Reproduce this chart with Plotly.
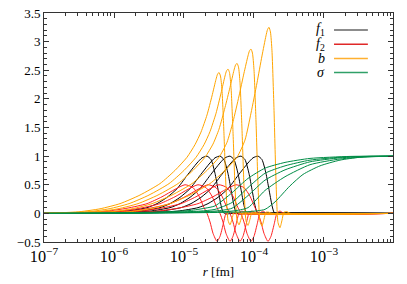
import numpy as np
import plotly.graph_objects as go

# ---------------- data (x given as log10 of r in fm) ----------------
f1_logr = [
    [-7.0, -6.957, -6.385, -6.100, -5.814, -5.528, -5.385, -5.242, -5.100, -4.957, -4.814, -4.742, -4.671, -4.614, -4.557, -4.514, -4.471, -4.442, -4.400, -4.314, -2.0],
    [-7.0, -6.772, -6.200, -5.915, -5.629, -5.343, -5.200, -5.057, -4.915, -4.772, -4.629, -4.557, -4.486, -4.429, -4.372, -4.329, -4.286, -4.257, -4.215, -4.129, -2.0],
    [-7.0, -6.629, -6.057, -5.772, -5.486, -5.200, -5.057, -4.914, -4.772, -4.629, -4.486, -4.414, -4.343, -4.286, -4.229, -4.186, -4.143, -4.114, -4.072, -3.986, -2.0],
    [-7.0, -6.472, -5.900, -5.615, -5.329, -5.043, -4.900, -4.757, -4.615, -4.472, -4.329, -4.257, -4.186, -4.129, -4.072, -4.029, -3.986, -3.957, -3.915, -3.829, -2.0],
    [-7.0, -6.229, -5.657, -5.372, -5.086, -4.800, -4.657, -4.514, -4.372, -4.229, -4.086, -4.014, -3.943, -3.886, -3.829, -3.786, -3.743, -3.714, -3.672, -3.586, -2.0],
]
f1_vals = [
    [0, 0, 0.01, 0.02, 0.04, 0.10, 0.17, 0.28, 0.43, 0.66, 0.88, 0.97, 1.00, 0.94, 0.70, 0.42, 0.14, 0.02, -0.01, 0, 0],
    [0, 0, 0.01, 0.02, 0.04, 0.10, 0.17, 0.28, 0.43, 0.66, 0.88, 0.97, 1.00, 0.94, 0.70, 0.42, 0.14, 0.02, -0.01, 0, 0],
    [0, 0, 0.01, 0.02, 0.04, 0.10, 0.17, 0.28, 0.43, 0.66, 0.88, 0.97, 1.00, 0.94, 0.70, 0.42, 0.14, 0.02, -0.01, 0, 0],
    [0, 0, 0.01, 0.02, 0.04, 0.10, 0.17, 0.28, 0.43, 0.66, 0.88, 0.97, 1.00, 0.94, 0.70, 0.42, 0.14, 0.02, -0.01, 0, 0],
    [0, 0, 0.01, 0.02, 0.04, 0.10, 0.17, 0.28, 0.43, 0.66, 0.88, 0.97, 1.00, 0.94, 0.70, 0.42, 0.14, 0.02, -0.01, 0, 0],
]

f2_logr = [
    [-7.0, -6.957, -6.385, -6.100, -5.814, -5.528, -5.314, -5.128, -4.985, -4.871, -4.785, -4.714, -4.671, -4.628, -4.585, -4.528, -4.485, -4.442, -4.400, -4.357, -4.300, -2.0],
    [-7.0, -6.772, -6.200, -5.915, -5.629, -5.343, -5.129, -4.943, -4.800, -4.686, -4.600, -4.529, -4.486, -4.443, -4.400, -4.343, -4.300, -4.257, -4.215, -4.172, -4.115, -2.0],
    [-7.0, -6.629, -6.057, -5.772, -5.486, -5.200, -4.986, -4.800, -4.657, -4.543, -4.457, -4.386, -4.343, -4.300, -4.257, -4.200, -4.157, -4.114, -4.072, -4.029, -3.972, -2.0],
    [-7.0, -6.472, -5.900, -5.615, -5.329, -5.043, -4.829, -4.643, -4.500, -4.386, -4.300, -4.229, -4.186, -4.143, -4.100, -4.043, -4.000, -3.957, -3.915, -3.872, -3.815, -2.0],
    [-7.0, -6.229, -5.657, -5.372, -5.086, -4.800, -4.586, -4.400, -4.257, -4.143, -4.057, -3.986, -3.943, -3.900, -3.857, -3.800, -3.757, -3.714, -3.672, -3.629, -3.572, -2.0],
]
f2_vals = [
    [0, 0, 0.02, 0.04, 0.09, 0.17, 0.29, 0.42, 0.50, 0.45, 0.30, 0.10, 0, -0.15, -0.35, -0.49, -0.40, -0.20, 0, 0.04, 0, 0],
    [0, 0, 0.02, 0.04, 0.09, 0.17, 0.29, 0.42, 0.50, 0.45, 0.30, 0.10, 0, -0.15, -0.35, -0.49, -0.40, -0.20, 0, 0.04, 0, 0],
    [0, 0, 0.02, 0.04, 0.09, 0.17, 0.29, 0.42, 0.50, 0.45, 0.30, 0.10, 0, -0.15, -0.35, -0.49, -0.40, -0.20, 0, 0.04, 0, 0],
    [0, 0, 0.02, 0.04, 0.09, 0.17, 0.29, 0.42, 0.50, 0.45, 0.30, 0.10, 0, -0.15, -0.35, -0.49, -0.40, -0.20, 0, 0.04, 0, 0],
    [0, 0, 0.02, 0.04, 0.09, 0.17, 0.29, 0.42, 0.50, 0.45, 0.30, 0.10, 0, -0.15, -0.35, -0.49, -0.40, -0.20, 0, 0.04, 0, 0],
]

b_logr = [
    [-7.0, -6.771, -6.486, -6.200, -5.914, -5.629, -5.343, -5.129, -4.957, -4.843, -4.757, -4.671, -4.600, -4.543, -4.521, -4.500, -4.479, -4.457, -4.429, -4.400, -4.371, -4.343, -4.314, -4.286, -4.243, -4.200, -2.0],
    [-7.0, -6.642, -6.357, -6.071, -5.785, -5.500, -5.214, -5.000, -4.828, -4.714, -4.628, -4.542, -4.471, -4.414, -4.392, -4.371, -4.350, -4.328, -4.300, -4.271, -4.242, -4.214, -4.185, -4.157, -4.114, -4.071, -2.0],
    [-7.0, -6.514, -6.229, -5.943, -5.657, -5.372, -5.086, -4.872, -4.700, -4.586, -4.500, -4.414, -4.343, -4.286, -4.264, -4.243, -4.222, -4.200, -4.172, -4.143, -4.114, -4.086, -4.057, -4.029, -3.986, -3.943, -2.0],
    [-7.0, -6.314, -6.029, -5.743, -5.457, -5.172, -4.886, -4.672, -4.500, -4.386, -4.300, -4.214, -4.143, -4.086, -4.064, -4.043, -4.022, -4.000, -3.972, -3.943, -3.914, -3.886, -3.857, -3.829, -3.786, -3.743, -2.0],
    [-7.0, -6.057, -5.772, -5.486, -5.200, -4.915, -4.629, -4.415, -4.243, -4.129, -4.043, -3.957, -3.886, -3.829, -3.807, -3.786, -3.765, -3.743, -3.715, -3.686, -3.657, -3.629, -3.600, -3.572, -3.529, -3.486, -2.0],
]
b_vals = [
    [0, 0.01, 0.03, 0.08, 0.17, 0.32, 0.52, 0.75, 0.98, 1.20, 1.42, 1.72, 2.05, 2.34, 2.43, 2.46, 2.40, 2.15, 1.40, 0.45, -0.12, -0.20, -0.10, 0.02, 0.02, 0, 0],
    [0, 0.01, 0.03, 0.08, 0.17, 0.32, 0.52, 0.75, 0.98, 1.20, 1.43, 1.75, 2.10, 2.40, 2.49, 2.52, 2.46, 2.20, 1.43, 0.46, -0.12, -0.20, -0.10, 0.02, 0.02, 0, 0],
    [0, 0.01, 0.03, 0.08, 0.17, 0.32, 0.52, 0.75, 0.98, 1.21, 1.47, 1.85, 2.20, 2.50, 2.59, 2.62, 2.56, 2.29, 1.49, 0.48, -0.13, -0.21, -0.10, 0.02, 0.02, 0, 0],
    [0, 0.01, 0.03, 0.08, 0.17, 0.32, 0.52, 0.75, 0.98, 1.24, 1.60, 2.05, 2.45, 2.75, 2.84, 2.87, 2.80, 2.51, 1.64, 0.52, -0.14, -0.22, -0.10, 0.02, 0.02, 0, 0],
    [0, 0.01, 0.03, 0.08, 0.17, 0.32, 0.52, 0.75, 0.98, 1.28, 1.75, 2.28, 2.75, 3.10, 3.21, 3.25, 3.17, 2.84, 1.85, 0.59, -0.16, -0.25, -0.12, 0.02, 0.03, 0, 0],
]

sigma_logr = [
    [-7.0, -5.486, -4.914, -4.700, -4.557, -4.314, -4.086, -3.843, -3.557, -3.200, -2.629, -2.0],
    [-7.0, -5.486, -4.771, -4.557, -4.314, -4.086, -3.843, -3.557, -3.200, -2.771, -2.343, -2.0],
    [-7.0, -5.486, -4.557, -4.314, -4.086, -3.843, -3.557, -3.200, -2.771, -2.343, -2.0],
    [-7.0, -5.486, -4.314, -4.086, -3.843, -3.557, -3.200, -2.771, -2.343, -2.0],
    [-7.0, -5.486, -4.086, -3.843, -3.700, -3.486, -3.300, -3.057, -2.771, -2.486, -2.0],
]
sigma_vals = [
    [0, 0.02, 0.05, 0.09, 0.13, 0.36, 0.61, 0.79, 0.89, 0.96, 0.995, 1.0],
    [0, 0.01, 0.04, 0.07, 0.19, 0.45, 0.70, 0.83, 0.93, 0.98, 0.998, 1.0],
    [0, 0.01, 0.04, 0.09, 0.31, 0.58, 0.76, 0.90, 0.97, 0.995, 1.0],
    [0, 0.005, 0.04, 0.10, 0.40, 0.64, 0.85, 0.95, 0.99, 1.0],
    [0, 0.005, 0.03, 0.07, 0.20, 0.48, 0.68, 0.83, 0.93, 0.98, 1.0],
]

legend_labels = ["<i>f</i><sub>1</sub>", "<i>f</i><sub>2</sub>", "<i>b</i>", "<i>σ</i>"]
colors = ["#000000", "#ff2020", "#ffa500", "#008c46"]
legend_colors = ["#666666", "#e02828", "#ffb030", "#30a068"]

# ---------------- figure ----------------
fig = go.Figure()
families = [(f1_logr, f1_vals), (f2_logr, f2_vals), (b_logr, b_vals), (sigma_logr, sigma_vals)]
for (xs_list, ys_list), col in zip(families, colors):
    for xs, ys in zip(xs_list, ys_list):
        fig.add_trace(go.Scatter(
            x=10 ** np.array(xs), y=ys, mode="lines",
            line=dict(color=col, width=1, shape="spline", smoothing=0.6),
            showlegend=False, hoverinfo="skip"))

FONT = "Liberation Serif, Times New Roman, serif"

# legend drawn gnuplot-style (text left, sample right)
leg_y = [0.926, 0.863, 0.801, 0.740]
for lab, col, yy in zip(legend_labels, legend_colors, leg_y):
    fig.add_annotation(x=0.81, y=yy, xref="paper", yref="paper", text=lab,
                       showarrow=False, xanchor="right", yanchor="middle",
                       font=dict(family=FONT, size=14, color="black"))
    fig.add_shape(type="line", xref="paper", yref="paper",
                  x0=0.831, x1=0.928, y0=yy, y1=yy,
                  line=dict(color=col, width=1.5))

axis_common = dict(showline=True, linecolor="#333333", linewidth=1, mirror="allticks",
                   ticks="inside", tickcolor="#333333", showgrid=False, zeroline=False,
                   automargin=False, ticklabeloverflow="allow",
                   tickfont=dict(family=FONT, size=13, color="black"))

fig.update_xaxes(type="log", range=[-7, -2.014], dtick=1, exponentformat="power",
                 ticklen=5, minor=dict(ticks="inside", ticklen=3, tickcolor="#333333", showgrid=False),
                 title=dict(text="<i>r</i> [fm]", font=dict(family=FONT, size=13, color="black"), standoff=2),
                 **axis_common)
fig.update_yaxes(range=[-0.5, 3.5], dtick=0.5, ticklen=5,
                 minor=dict(dtick=0.1, ticks="inside", ticklen=3, tickcolor="#333333", showgrid=False),
                 **axis_common)

# the page adds an 8px body margin, so the figure is sized/offset to compensate
fig.update_layout(width=399, height=276,
                  margin=dict(l=36, r=14, t=5, b=42, autoexpand=False),
                  plot_bgcolor="white", paper_bgcolor="white",
                  font=dict(family=FONT, size=13, color="black"))

fig.write_html("out.html")
